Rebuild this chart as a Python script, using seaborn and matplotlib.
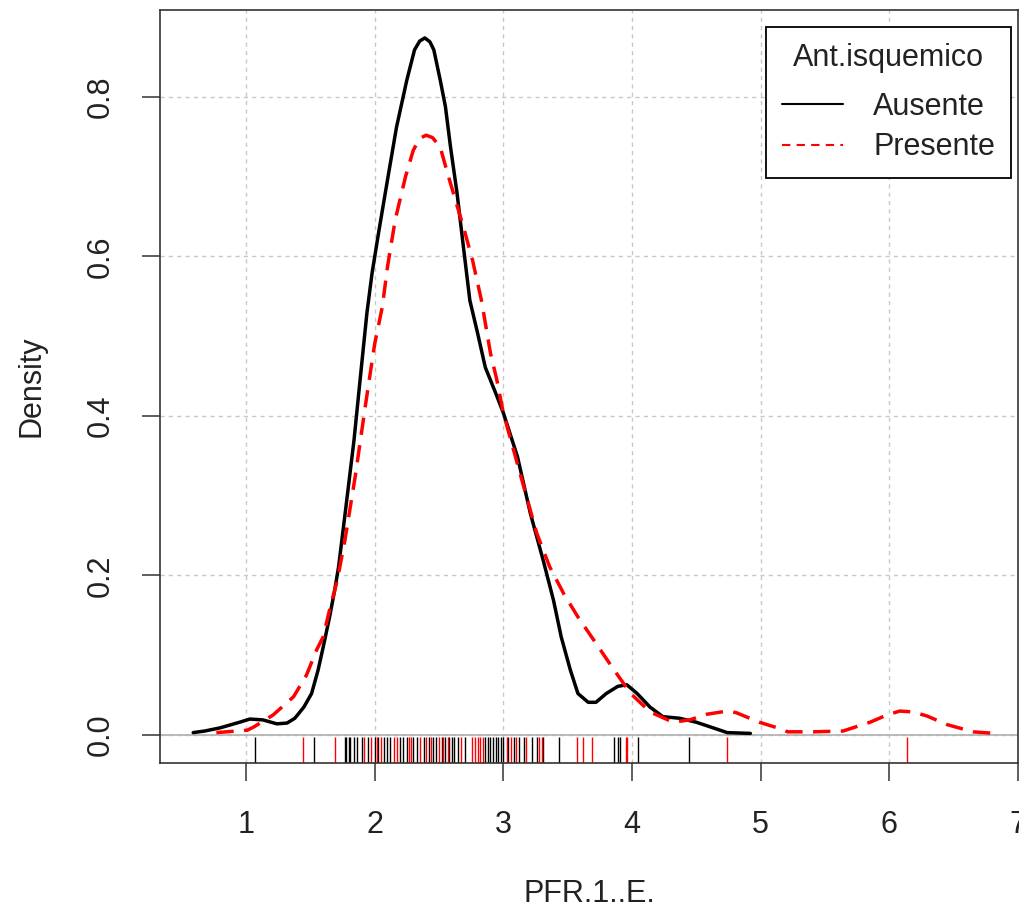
import numpy as np
import pandas as pd
import matplotlib
matplotlib.use("Agg")
import matplotlib.pyplot as plt
import seaborn as sns
from matplotlib.lines import Line2D

# ---- data ----
groups = ["Ausente", "Presente"]
legend_title = "Ant.isquemico"
x_label = "PFR.1..E."
y_label = "Density"

ausente_x = [0.59, 0.68, 0.80, 0.95, 1.03, 1.13, 1.24, 1.32, 1.38, 1.45, 1.51, 1.56,
             1.60, 1.65, 1.69, 1.72, 1.78, 1.84, 1.89, 1.94, 1.98, 2.03, 2.10, 2.17,
             2.25, 2.31, 2.35, 2.39, 2.43, 2.46, 2.51, 2.55, 2.59, 2.64, 2.69, 2.74, 2.80, 2.86,
             2.94, 3.00, 3.11, 3.21, 3.31, 3.39, 3.45, 3.52, 3.58, 3.66, 3.72, 3.80,
             3.89, 3.96, 4.04, 4.14, 4.24, 4.37, 4.50, 4.63, 4.74, 4.92]
ausente_d = [0.003, 0.005, 0.009, 0.016, 0.020, 0.019, 0.014, 0.015, 0.021, 0.035, 0.052, 0.081,
             0.110, 0.148, 0.182, 0.211, 0.290, 0.370, 0.450, 0.529, 0.579, 0.629, 0.696, 0.762,
             0.821, 0.859, 0.870, 0.874, 0.869, 0.859, 0.821, 0.788, 0.737, 0.680, 0.612, 0.545, 0.504, 0.461,
             0.429, 0.404, 0.349, 0.278, 0.219, 0.169, 0.123, 0.082, 0.052, 0.041, 0.041, 0.052,
             0.061, 0.063, 0.052, 0.035, 0.023, 0.021, 0.016, 0.009, 0.003, 0.002]

presente_x = [0.77, 0.85, 1.01, 1.06, 1.21, 1.37, 1.47, 1.55, 1.60, 1.65, 1.71, 1.77,
              1.85, 1.93, 2.00, 2.06, 2.10, 2.16, 2.24, 2.30, 2.35, 2.40, 2.45, 2.51, 2.56,
              2.62, 2.69, 2.76, 2.83, 2.90, 2.95, 3.00, 3.13, 3.26, 3.36, 3.47, 3.58,
              3.72, 3.85, 3.99, 4.14, 4.32, 4.45, 4.58, 4.74, 4.81, 4.99, 5.15, 5.21,
              5.41, 5.64, 5.85, 5.98, 6.08, 6.18, 6.29, 6.45, 6.65, 6.82]
presente_d = [0.003, 0.004, 0.006, 0.010, 0.025, 0.048, 0.075, 0.107, 0.123, 0.157, 0.194, 0.245,
              0.325, 0.415, 0.490, 0.537, 0.587, 0.646, 0.700, 0.733, 0.748, 0.752, 0.749, 0.737, 0.708,
              0.675, 0.637, 0.596, 0.545, 0.479, 0.445, 0.404, 0.328, 0.253, 0.211, 0.177, 0.148,
              0.115, 0.084, 0.052, 0.029, 0.016, 0.019, 0.026, 0.030, 0.028, 0.016, 0.008, 0.004,
              0.004, 0.005, 0.016, 0.025, 0.030, 0.029, 0.024, 0.013, 0.004, 0.002]

ausente_rug = [1.07, 1.53, 1.77, 1.78, 1.80, 1.81, 1.84, 1.86, 1.90, 1.95, 2.00, 2.03,
               2.07, 2.10, 2.12, 2.20, 2.22, 2.25, 2.30, 2.33, 2.38, 2.42, 2.45, 2.48,
               2.52, 2.55, 2.58, 2.60, 2.62, 2.65, 2.70, 2.86, 2.88, 2.90, 2.92, 2.94,
               2.96, 2.98, 3.00, 3.04, 3.08, 3.12, 3.16, 3.22, 3.26, 3.31, 3.43, 3.86,
               3.89, 3.91, 4.05, 4.44]
presente_rug = [1.44, 1.69, 1.92, 1.97, 2.02, 2.05, 2.15, 2.17, 2.27, 2.28, 2.35, 2.40,
                2.44, 2.50, 2.53, 2.57, 2.67, 2.76, 2.78, 2.80, 2.82, 2.84, 3.03, 3.06,
                3.10, 3.18, 3.28, 3.30, 3.57, 3.62, 3.69, 3.95, 3.96, 4.74, 6.14]

x_ticks = [1, 2, 3, 4, 5, 6, 7]
y_ticks = [0.0, 0.2, 0.4, 0.6, 0.8]
colors = {"Ausente": "black", "Presente": "red"}

# ---- build tables ----
dens = pd.concat([
    pd.DataFrame({"x": ausente_x, "d": ausente_d, "g": "Ausente"}),
    pd.DataFrame({"x": presente_x, "d": presente_d, "g": "Presente"}),
], ignore_index=True)
rug = pd.concat([
    pd.DataFrame({"x": ausente_rug, "g": "Ausente"}),
    pd.DataFrame({"x": presente_rug, "g": "Presente"}),
], ignore_index=True)

sns.set_theme(style="white")
plt.rcParams["font.family"] = ["Liberation Sans", "DejaVu Sans"]
FS = 22

fig = plt.figure(figsize=(10.19, 9.15), dpi=100)
ax = fig.add_axes([160 / 1019, (915 - 763) / 915, 858 / 1019, 753 / 915])

# grid
for xt in x_ticks:
    ax.axvline(xt, color="#c8c8c8", lw=1.0, ls=(0, (3, 3)), zorder=0)
for yt in y_ticks:
    ax.axhline(yt, color="#c8c8c8", lw=1.0, ls=(0, (3, 3)), zorder=0)
ax.axhline(0, color="#b0b0b0", lw=1.2, zorder=1)

sns.lineplot(data=dens, x="x", y="d", hue="g", style="g", palette=colors,
             dashes={"Ausente": "", "Presente": (5, 3)}, lw=2.5, sort=False,
             estimator=None, legend=False, ax=ax, zorder=3)

sns.rugplot(data=rug, x="x", hue="g", palette=colors, height=0.034,
            lw=1.6, legend=False, ax=ax, zorder=2)

ax.set_xlim(0.332, 6.999)
ax.set_ylim(-0.0351, 0.909)
ax.set_xticks(x_ticks)
ax.set_xticklabels([str(t) for t in x_ticks], fontsize=FS)
ax.set_yticks(y_ticks)
ax.set_yticklabels([f"{t:.1f}" for t in y_ticks], fontsize=FS, rotation=90, va="center")
ax.tick_params(axis="both", direction="out", length=13, width=1.1, color="#333333",
               bottom=True, left=True, labelcolor="#222222")
ax.tick_params(axis="x", pad=21)
ax.tick_params(axis="y", pad=19)
for s in ax.spines.values():
    s.set_color("#333333")
    s.set_linewidth(1.2)
    s.set_visible(True)

ax.set_xlabel(x_label, fontsize=FS, color="#222222", labelpad=28)
ax.set_ylabel(y_label, fontsize=FS, color="#222222", labelpad=28)

handles = [Line2D([], [], color="black", lw=1.5),
           Line2D([], [], color="red", lw=1.5, ls=(0, (4, 3)))]
leg = ax.legend(handles, groups, title=legend_title, loc="upper right",
                bbox_to_anchor=(0.992, 0.977), fontsize=FS, title_fontsize=FS,
                frameon=True, fancybox=False, edgecolor="black", framealpha=1,
                handlelength=2.0, handletextpad=1.0, labelspacing=0.33,
                borderpad=0.52, borderaxespad=0)
leg._legend_box.sep = 0.62 * FS
leg.get_frame().set_linewidth(1.3)
leg.get_title().set_color("#222222")
for t in leg.get_texts():
    t.set_color("#222222")

fig.savefig("out.png", dpi=100)
